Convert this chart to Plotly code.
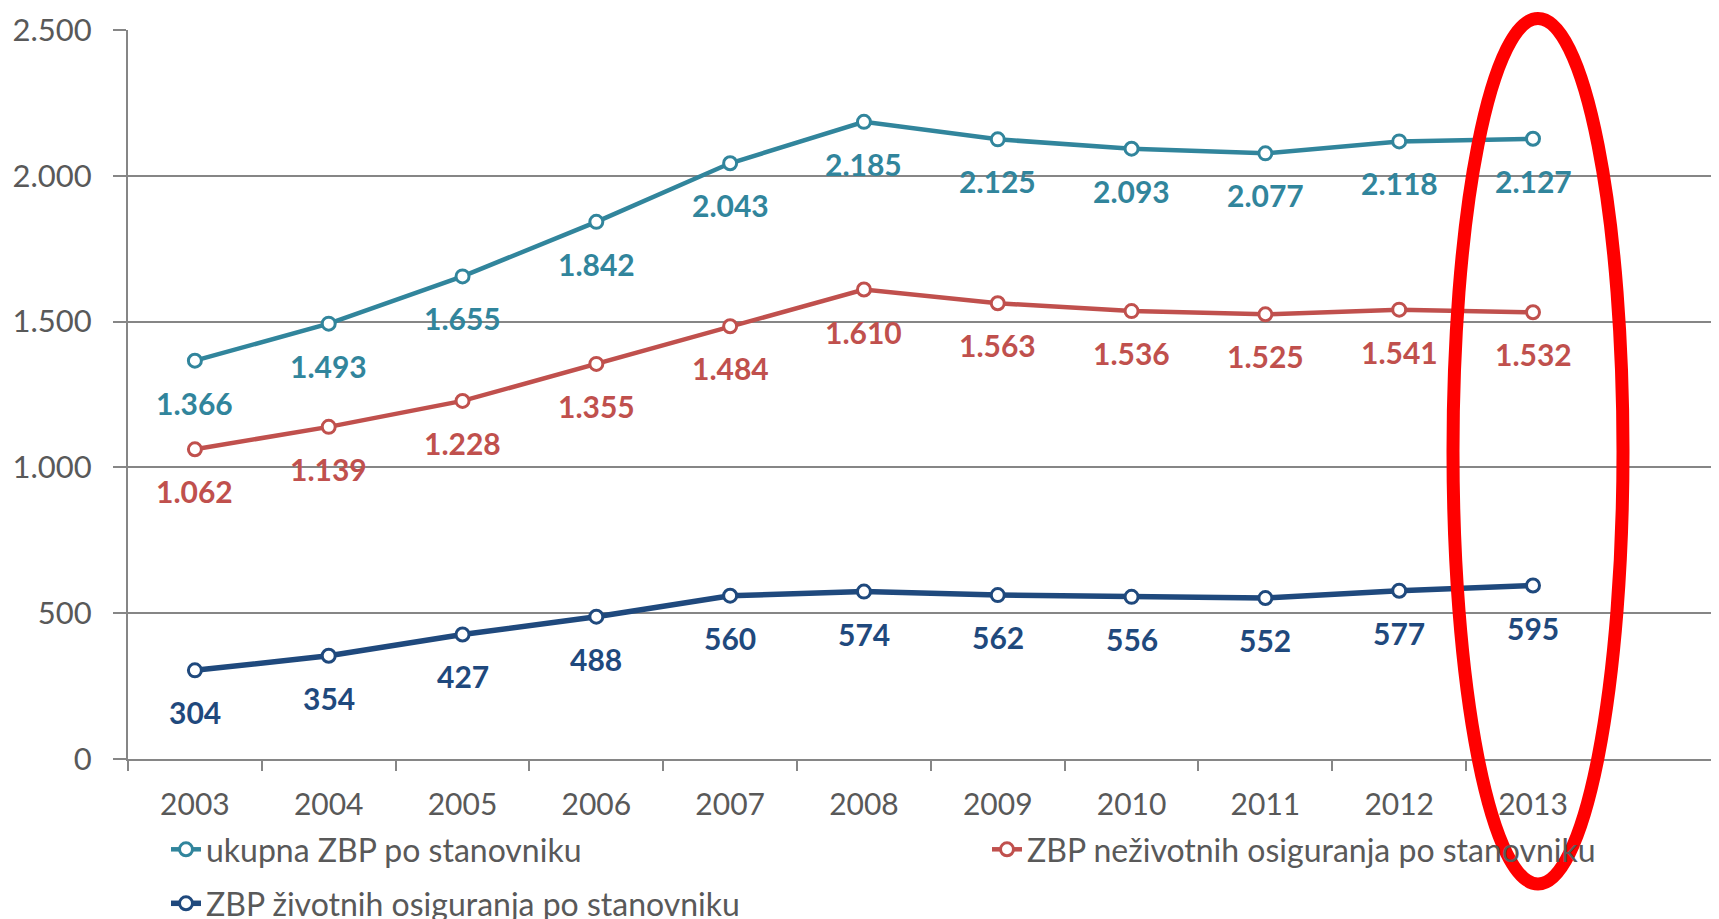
import plotly.graph_objects as go

# data
years = ["2003", "2004", "2005", "2006", "2007", "2008", "2009", "2010", "2011", "2012", "2013"]
ukupna = [1366, 1493, 1655, 1842, 2043, 2185, 2125, 2093, 2077, 2118, 2127]
nezivotna = [1062, 1139, 1228, 1355, 1484, 1610, 1563, 1536, 1525, 1541, 1532]
zivotna = [304, 354, 427, 488, 560, 574, 562, 556, 552, 577, 595]

names = ["ukupna ZBP po stanovniku",
         "ZBP neživotnih osiguranja po stanovniku",
         "ZBP životnih osiguranja po stanovniku"]
colors = ["#31859C", "#C0504D", "#1F497D"]

FONT = "Lato"
GRAY = "#868686"
TXT = "#595959"

# page has an 8px body margin, so the figure is 8px smaller and targets are shifted
OFF = 8
W, H = 1719 - OFF, 919 - OFF
L, R, T = 128 - OFF, 0, 30 - OFF
BOT = 759 - OFF          # plot bottom in figure px
B = H - BOT
pw = W - L - R
ph = BOT - T


def px_x(p):  # page pixel -> paper x
    return (p - OFF - L) / pw


def px_y(p):  # page pixel -> paper y
    return (BOT - (p - OFF)) / ph


def fmt(v):
    return f"{v:,}".replace(",", ".")


fig = go.Figure()

series = [ukupna, nezivotna, zivotna]
legends = ["legend", "legend3", "legend2"]
widths = [4.5, 4.5, 5.5]
for vals, name, col, lg, lw in zip(series, names, colors, legends, widths):
    fig.add_trace(go.Scatter(
        x=years, y=vals, name=name, mode="lines+markers",
        line=dict(color=col, width=lw),
        marker=dict(symbol="circle", size=13, color="white",
                    line=dict(color=col, width=3)),
        legend=lg,
        hoverinfo="skip",
    ))
    # data labels below each point (category axis -> index positions)
    for i, v in enumerate(vals):
        fig.add_annotation(x=i, y=v, text=fmt(v), showarrow=False,
                           yshift=-42,
                           font=dict(family=FONT, size=30, color=col, weight="bold"))

# red highlight ellipse around 2013
fig.add_shape(type="circle", xref="paper", yref="paper",
              x0=px_x(1453), x1=px_x(1623),
              y0=px_y(884), y1=px_y(18.5),
              line=dict(color="#FF0000", width=13))

leg_font = dict(family=FONT, size=32, color=TXT)
fig.update_layout(
    width=W, height=H,
    margin=dict(l=L, r=R, t=T, b=B, autoexpand=False),
    plot_bgcolor="white", paper_bgcolor="white",
    separators=",.",
    font=dict(family=FONT, size=30, color=TXT),
    showlegend=True,
    legend=dict(orientation="h", x=px_x(166), xanchor="left",
                y=px_y(822), yanchor="top",
                font=leg_font, bgcolor="rgba(0,0,0,0)"),
    legend3=dict(orientation="h", x=px_x(987), xanchor="left",
                 y=px_y(822), yanchor="top",
                 font=leg_font, bgcolor="rgba(0,0,0,0)"),
    legend2=dict(orientation="h", x=px_x(166), xanchor="left",
                 y=px_y(876), yanchor="top",
                 font=leg_font, bgcolor="rgba(0,0,0,0)"),
    xaxis=dict(type="category", range=[-0.5, 11.39],
               showline=True, linecolor=GRAY, linewidth=2,
               ticks="outside", tickson="boundaries", ticklen=10,
               tickcolor=GRAY, tickwidth=2, showgrid=False,
               ticklabelstandoff=18,
               tickfont=dict(family=FONT, size=30, color=TXT)),
    yaxis=dict(range=[0, 2500], dtick=500, tickformat=",d",
               showline=True, linecolor=GRAY, linewidth=2,
               showgrid=True, gridcolor=GRAY, gridwidth=2, zeroline=False,
               ticks="outside", ticklen=13, tickcolor=GRAY, tickwidth=2,
               ticklabelstandoff=15,
               tickfont=dict(family=FONT, size=31, color=TXT)),
)

fig.write_html("out.html")
